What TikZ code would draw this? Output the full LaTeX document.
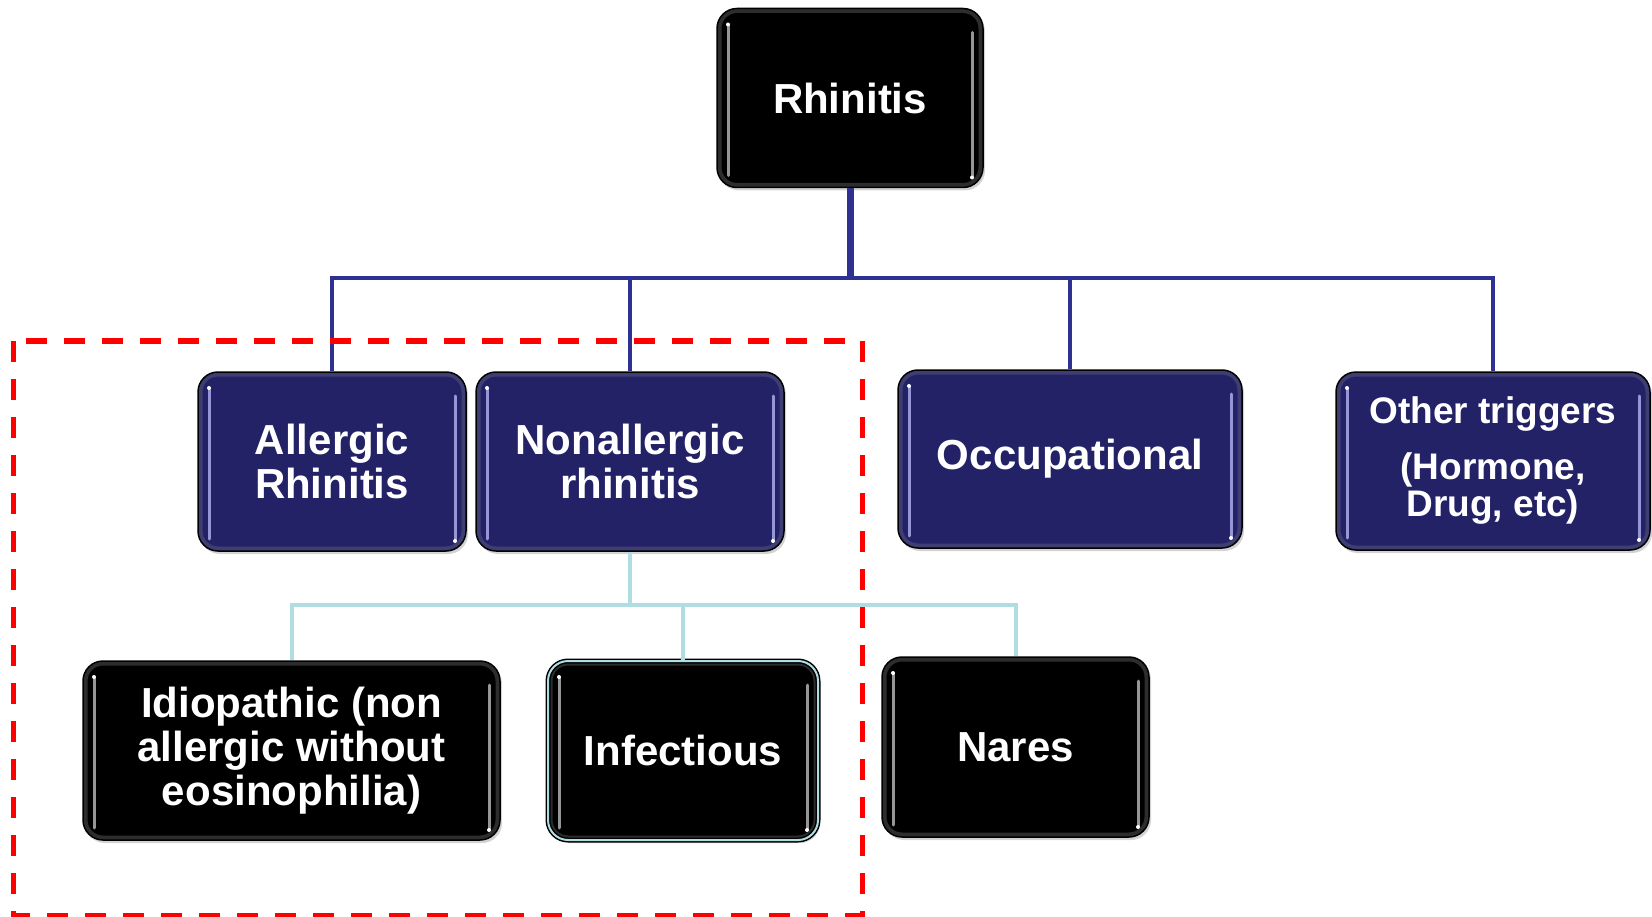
\documentclass[tikz,border=0pt]{standalone}
\usepackage{fontspec}
\setmainfont{Liberation Sans}
\usetikzlibrary{shadows}
\definecolor{navyfill}{RGB}{36,34,102}
\definecolor{busblue}{RGB}{46,49,146}
\definecolor{lblue}{RGB}{176,221,226}
\definecolor{hlnavy}{RGB}{150,150,215}
\definecolor{hlblack}{RGB}{150,150,150}
\tikzset{
  hilite/.style={path picture={
    \draw[#1!60!black, line width=9pt, rounded corners=20pt, opacity=0.5]
      (path picture bounding box.north west) rectangle (path picture bounding box.south east);
    \draw[#1, line width=3pt, line cap=round]
      ([xshift=11pt,yshift=-16pt]path picture bounding box.north west) --
      ([xshift=11pt,yshift=12pt]path picture bounding box.south west);
    \draw[#1, line width=3pt, line cap=round]
      ([xshift=-11pt,yshift=-24pt]path picture bounding box.north east) --
      ([xshift=-11pt,yshift=10pt]path picture bounding box.south east);
    \fill[white] ([xshift=11pt,yshift=-16pt]path picture bounding box.north west) circle (2pt);
    \fill[white] ([xshift=-11pt,yshift=10pt]path picture bounding box.south east) circle (2pt);
  }},
  basebox/.style={rounded corners=20pt, draw=black, line width=1.5pt, text=white,
    font=\fontsize{42}{44}\selectfont\bfseries, align=center, inner sep=0pt,
    drop shadow={opacity=0.35, shadow xshift=2pt, shadow yshift=-3pt}},
  navybox/.style={basebox, fill=navyfill, hilite=hlnavy},
  blackbox/.style={basebox, fill=black, hilite=hlblack},
  conn/.style={draw=busblue, line width=4.5pt},
  trunk/.style={draw=busblue, line width=7pt},
  lconn/.style={draw=lblue, line width=4pt},
  redframe/.style={draw=red, line width=5pt, dash pattern=on 21pt off 17pt}
}
\begin{document}
\begin{tikzpicture}[x=1pt,y=-1pt]
\useasboundingbox (0,0) rectangle (1652,917);
\coordinate (j1) at (850,278);
\coordinate (j2) at (630,605);
\node[blackbox, minimum width=266pt, minimum height=179pt] (root) at (850,98) {Rhinitis};
\node[navybox, minimum width=268pt, minimum height=179pt] (ar) at (332,461.5) {Allergic\\Rhinitis};
\node[navybox, minimum width=308pt, minimum height=179pt] (nar) at (630,461.5) {Nonallergic\\rhinitis};
\node[navybox, minimum width=344pt, minimum height=178pt] (occ) at (1070,459) {Occupational};
\node[navybox, minimum width=314pt, minimum height=178pt, font=\fontsize{37}{37}\selectfont\bfseries] (oth) at (1493,461) {Other triggers\\[19pt](Hormone,\\Drug, etc)};
\node[blackbox, minimum width=417pt, minimum height=179pt] (idio) at (291.5,750.5) {Idiopathic (non\\allergic without\\eosinophilia)};
\node[blackbox, minimum width=270pt, minimum height=179pt, double=lblue, double distance=2pt] (inf) at (683,750.5) {Infectious};
\node[blackbox, minimum width=267pt, minimum height=180pt] (nares) at (1015.5,747) {Nares};
% blue bus
\draw[trunk] (root.south) -- (j1);
\draw[conn] (ar.north) |- (j1) -| (oth.north);
\draw[conn] (nar.north) -- (nar.north |- j1);
\draw[conn] (occ.north) -- (occ.north |- j1);
% light blue bus
\draw[lconn] (nar.south) -- (j2);
\draw[lconn] (idio.north) |- (j2) -| (nares.north);
\draw[lconn] (inf.north) -- (inf.north |- j2);
% red dashed frame
\draw[redframe] (13,341) rectangle (862,915);
\end{tikzpicture}
\end{document}
